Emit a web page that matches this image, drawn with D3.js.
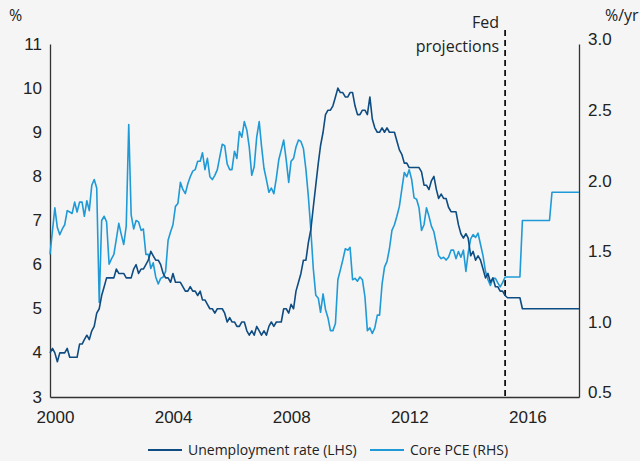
<!DOCTYPE html>
<html>
<head>
<meta charset="utf-8">
<script src="https://cdn.jsdelivr.net/npm/d3@7"></script>
<style>
  body { margin: 0; background: #f5f5f5; }
  svg { display: block; font-family: "Open Sans", sans-serif; }
  .axis text { font-size: 17px; fill: #222; }
  .axis path { stroke: #333; stroke-width: 1.3; }
  .legend text { font-size: 14px; fill: #222; }
</style>
</head>
<body>
<div id="chart"></div>
<script>
// Monthly unemployment rate (%), Jan 2000 - Jun 2015
const unemployment = [
  4.0, 4.1, 4.0, 3.8, 4.0, 4.0, 4.0, 4.1, 3.9, 3.9, 3.9, 3.9,
  4.2, 4.2, 4.3, 4.4, 4.3, 4.5, 4.6, 4.9, 5.0, 5.3, 5.5, 5.7,
  5.7, 5.7, 5.7, 5.9, 5.8, 5.8, 5.8, 5.7, 5.7, 5.7, 5.9, 6.0,
  5.8, 5.9, 5.9, 6.0, 6.1, 6.3, 6.2, 6.1, 6.1, 6.0, 5.8, 5.7,
  5.7, 5.6, 5.8, 5.6, 5.6, 5.6, 5.5, 5.4, 5.4, 5.5, 5.4, 5.4,
  5.3, 5.4, 5.2, 5.2, 5.1, 5.0, 5.0, 4.9, 5.0, 5.0, 5.0, 4.9,
  4.7, 4.8, 4.7, 4.7, 4.6, 4.6, 4.7, 4.7, 4.5, 4.4, 4.5, 4.4,
  4.6, 4.5, 4.4, 4.5, 4.4, 4.6, 4.7, 4.6, 4.7, 4.7, 4.7, 5.0,
  5.0, 4.9, 5.1, 5.0, 5.4, 5.6, 5.8, 6.1, 6.1, 6.5, 6.8, 7.3,
  7.8, 8.3, 8.7, 9.0, 9.4, 9.5, 9.5, 9.6, 9.8, 10.0, 9.9, 9.9,
  9.8, 9.8, 9.9, 9.9, 9.6, 9.4, 9.4, 9.5, 9.5, 9.4, 9.8, 9.3,
  9.1, 9.0, 9.0, 9.1, 9.0, 9.1, 9.0, 9.0, 9.0, 8.8, 8.6, 8.5,
  8.3, 8.3, 8.2, 8.2, 8.2, 8.2, 8.2, 8.1, 7.8, 7.8, 7.7, 7.9,
  8.0, 7.7, 7.5, 7.6, 7.5, 7.5, 7.3, 7.2, 7.2, 7.2, 6.9, 6.7,
  6.6, 6.7, 6.6, 6.2, 6.3, 6.1, 6.2, 6.1, 5.9, 5.7, 5.8, 5.6,
  5.7, 5.5, 5.5, 5.4, 5.4, 5.3
];

// Monthly core PCE inflation (%/yr), Jan 2000 - Jun 2015
const corePce = [
  1.51, 1.68, 1.84, 1.70, 1.65, 1.69, 1.72, 1.82, 1.81, 1.80, 1.88, 1.81,
  1.88, 1.88, 1.78, 1.89, 1.82, 2.00, 2.04, 1.98, 1.17, 1.75, 1.78, 1.74,
  1.44, 1.48, 1.51, 1.62, 1.73, 1.65, 1.58, 1.71, 2.43, 1.79, 1.69, 1.75,
  1.74, 1.68, 1.69, 1.51, 1.51, 1.41, 1.45, 1.35, 1.30, 1.34, 1.35, 1.39,
  1.61, 1.67, 1.72, 1.85, 1.87, 2.02, 1.97, 1.94, 2.01, 2.06, 2.10, 2.11,
  2.17, 2.17, 2.23, 2.11, 2.19, 2.06, 2.04, 2.07, 2.11, 2.20, 2.29, 2.28,
  2.15, 2.11, 2.11, 2.24, 2.19, 2.38, 2.34, 2.45, 2.39, 2.27, 2.07, 2.13,
  2.34, 2.45, 2.28, 2.12, 2.04, 1.95, 1.98, 1.94, 2.05, 2.18, 2.25, 2.32,
  2.18, 2.02, 2.17, 2.19, 2.27, 2.32, 2.31, 2.26, 2.11, 1.92, 1.68, 1.41,
  1.22, 1.20, 1.10, 1.23, 1.12, 1.06, 0.97, 0.97, 1.02, 1.33, 1.40, 1.47,
  1.55, 1.54, 1.56, 1.33, 1.34, 1.32, 1.35, 1.33, 1.21, 0.97, 0.99, 0.95,
  0.99, 1.08, 1.08, 1.30, 1.42, 1.46, 1.55, 1.68, 1.72, 1.78, 1.85, 1.97,
  2.09, 2.06, 2.11, 2.04, 1.91, 1.90, 1.84, 1.68, 1.72, 1.84, 1.78, 1.71,
  1.67, 1.58, 1.50, 1.48, 1.49, 1.47, 1.49, 1.54, 1.54, 1.48, 1.53, 1.49,
  1.54, 1.39, 1.52, 1.62, 1.65, 1.63, 1.66, 1.58, 1.50, 1.39, 1.33, 1.29,
  1.34, 1.34, 1.31, 1.28, 1.31, 1.35
];

// Fed projections (step points)
const unemploymentProjection = [
  ["2015-07", 5.25], ["2015-12", 5.25], ["2016-01", 5.0], ["2017-12", 5.0]
];
const corePceProjection = [
  ["2015-07", 1.35], ["2015-12", 1.35], ["2016-01", 1.75],
  ["2016-12", 1.75], ["2017-01", 1.95], ["2017-12", 1.95]
];

const yearTicks = [2000, 2004, 2008, 2012, 2016];
const leftTicks = [3, 4, 5, 6, 7, 8, 9, 10, 11];
const rightTicks = [0.5, 1.0, 1.5, 2.0, 2.5, 3.0];
const projectionStart = "2015-06";

const width = 640, height = 461;
const margin = { top: 44, right: 61, bottom: 64, left: 50 };
const colors = { unemployment: "#0f4c81", corePce: "#1f9ad6" };

const parseMonth = d3.timeParse("%Y-%m");
const start = new Date(2000, 0, 1);

const svg = d3.select("#chart").append("svg")
  .attr("width", width)
  .attr("height", height);

svg.append("rect").attr("width", width).attr("height", height).attr("fill", "#f5f5f5");

const x = d3.scaleTime()
  .domain([start, new Date(2017, 11, 1)])
  .range([margin.left, width - margin.right]);

const yL = d3.scaleLinear().domain([3, 11]).range([height - margin.bottom, margin.top]);
const yR = d3.scaleLinear().domain([0.5, 3.0]).range([height - margin.bottom, margin.top]);

const toSeries = arr => arr.map((v, i) => ({ date: d3.timeMonth.offset(start, i), value: v }));
const toProj = arr => arr.map(d => ({ date: parseMonth(d[0]), value: d[1] }));

const unempData = toSeries(unemployment).concat(toProj(unemploymentProjection));
const pceData = toSeries(corePce).concat(toProj(corePceProjection));

// Axes
svg.append("g")
  .attr("class", "axis")
  .attr("transform", `translate(${margin.left},0)`)
  .call(d3.axisLeft(yL).tickValues(leftTicks).tickSize(0).tickPadding(8))
  .selectAll("text").attr("dy", "0.3em");

svg.append("g")
  .attr("class", "axis")
  .attr("transform", `translate(${width - margin.right},0)`)
  .call(d3.axisRight(yR).tickValues(rightTicks).tickFormat(d3.format(".1f")).tickSize(0).tickPadding(9))
  .selectAll("text").attr("dy", "0.05em");

svg.append("g")
  .attr("class", "axis")
  .attr("transform", `translate(0,${height - margin.bottom})`)
  .call(d3.axisBottom(x)
    .tickValues(yearTicks.map(y => new Date(y, 0, 1)))
    .tickFormat(d3.timeFormat("%Y"))
    .tickSize(0)
    .tickPadding(14))
  .selectAll("text").attr("dx", 5);

// Projection divider
const px = x(parseMonth(projectionStart));
svg.append("line")
  .attr("x1", px).attr("x2", px)
  .attr("y1", 30).attr("y2", height - margin.bottom)
  .attr("stroke", "#111")
  .attr("stroke-width", 1.8)
  .attr("stroke-dasharray", "6,4");

["Fed", "projections"].forEach((t, i) => {
  svg.append("text")
    .attr("x", px - 6)
    .attr("y", 28 + i * 24)
    .attr("text-anchor", "end")
    .attr("font-size", 16)
    .attr("fill", "#222")
    .text(t);
});

// Lines
const lineL = d3.line().x(d => x(d.date)).y(d => yL(d.value));
const lineR = d3.line().x(d => x(d.date)).y(d => yR(d.value));

svg.append("path")
  .datum(pceData)
  .attr("fill", "none")
  .attr("stroke", colors.corePce)
  .attr("stroke-width", 1.6)
  .attr("stroke-linejoin", "round")
  .attr("d", lineR);

svg.append("path")
  .datum(unempData)
  .attr("fill", "none")
  .attr("stroke", colors.unemployment)
  .attr("stroke-width", 1.6)
  .attr("stroke-linejoin", "round")
  .attr("d", lineL);

// Unit labels
svg.append("text").attr("x", 9).attr("y", 21).attr("font-size", 16).attr("fill", "#222").text("%");
svg.append("text").attr("x", 605).attr("y", 21).attr("font-size", 16).attr("fill", "#222").text("%/yr");

// Legend
const legendItems = [
  { label: "Unemployment rate (LHS)", color: colors.unemployment, x: 148 },
  { label: "Core PCE (RHS)", color: colors.corePce, x: 370 }
];
const legend = svg.append("g").attr("class", "legend");
legendItems.forEach(item => {
  legend.append("line")
    .attr("x1", item.x).attr("x2", item.x + 34)
    .attr("y1", 450).attr("y2", 450)
    .attr("stroke", item.color)
    .attr("stroke-width", 1.8);
  legend.append("text")
    .attr("x", item.x + 40)
    .attr("y", 455)
    .text(item.label);
});
</script>
</body>
</html>
